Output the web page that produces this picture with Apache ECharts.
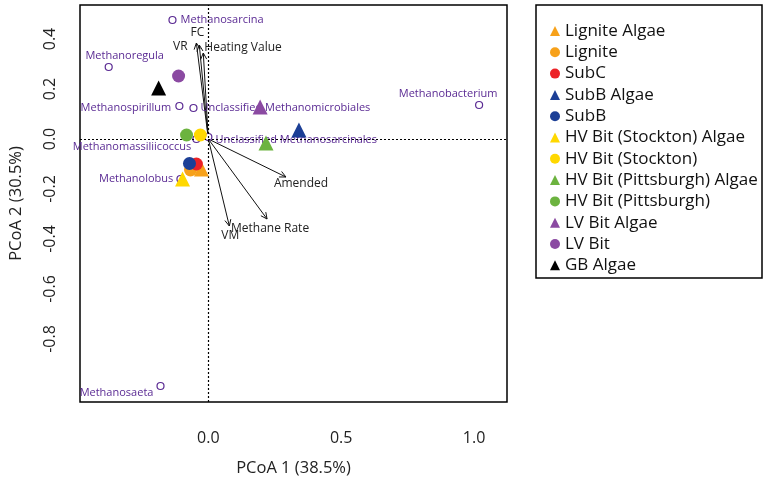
<!DOCTYPE html>
<html>
<head>
<meta charset="utf-8">
<script src="https://cdn.jsdelivr.net/npm/echarts@6/dist/echarts.min.js"></script>
<style>
html,body{margin:0;padding:0;background:#fff;}
#chart{width:767px;height:486px;}
</style>
</head>
<body>
<div id="chart"></div>
<script>
// ---- data ----
const xTicks = [0.0, 0.5, 1.0];
const yTicks = [-0.8, -0.6, -0.4, -0.2, 0.0, 0.2, 0.4];

const sampleNames = ['Lignite Algae', 'Lignite', 'SubC', 'SubB Algae', 'SubB',
  'HV Bit (Stockton) Algae', 'HV Bit (Stockton)', 'HV Bit (Pittsburgh) Algae',
  'HV Bit (Pittsburgh)', 'LV Bit Algae', 'LV Bit', 'GB Algae'];
const sampleX = [-0.026, -0.067, -0.045, 0.341, -0.071, -0.097, -0.030, 0.217, -0.082, 0.195, -0.112, -0.187];
const sampleY = [-0.120, -0.124, -0.100, 0.036, -0.098, -0.160, 0.016, -0.016, 0.016, 0.128, 0.252, 0.204];
const sampleAlgae = [true, false, false, true, false, true, false, true, false, true, false, true];
const sampleColors = ['#f7a11a', '#f7a11a', '#ec2227', '#1c3f96', '#1c3f96', '#ffd800', '#ffd800',
  '#6cb33f', '#6cb33f', '#8b4aa2', '#8b4aa2', '#000000'];

const speciesNames = ['Methanosarcina', 'Methanoregula', 'Methanospirillum', 'Unclassified Methanomicrobiales',
  'Methanobacterium', 'Methanomassiliicoccus', 'Unclassified Methanosarcinales', 'Methanolobus', 'Methanosaeta'];
const speciesX = [-0.135, -0.375, -0.109, -0.056, 1.019, -0.045, 0.000, -0.105, -0.180];
const speciesY = [0.476, 0.288, 0.132, 0.124, 0.136, 0.000, 0.008, -0.160, -0.988];

const vectorNames = ['FC', 'VR', 'Heating Value', 'Amended', 'Methane Rate', 'VM'];
const vectorX = [-0.045, -0.034, -0.019, 0.292, 0.221, 0.079];
const vectorY = [0.384, 0.376, 0.344, -0.152, -0.320, -0.348];

// ---- styles ----
const FONT = '"Open Sans", "Noto Sans", sans-serif';
const speciesLabelPos = {
  'Methanosarcina': {position: 'right', distance: 4, offset: [0, 0]},
  'Methanoregula': {position: 'top', distance: 2, offset: [16, 0]},
  'Methanospirillum': {position: 'left', distance: 4, offset: [0, 2]},
  'Unclassified Methanomicrobiales': {position: 'right', distance: 3, offset: [0, 0]},
  'Methanobacterium': {position: 'top', distance: 2, offset: [-31, 0]},
  'Methanomassiliicoccus': {position: 'left', distance: 1, offset: [0, 8]},
  'Unclassified Methanosarcinales': {position: 'right', distance: 3, offset: [0, 3]},
  'Methanolobus': {position: 'left', distance: 3, offset: [0, 0]},
  'Methanosaeta': {position: 'left', distance: 3, offset: [0, 7]}
};
const vectorLabelOff = {
  'FC': {dx: 1, dy: -10, align: 'center'},
  'VR': {dx: -19, dy: 2, align: 'center'},
  'Heating Value': {dx: 1, dy: -5, align: 'left'},
  'Amended': {dx: -12, dy: 7, align: 'left'},
  'Methane Rate': {dx: 3, dy: 10, align: 'center'},
  'VM': {dx: 1, dy: 10, align: 'center'}
};

const series = [];

// zero lines
series.push({
  type: 'line', data: [], silent: true,
  markLine: {
    silent: true, symbol: 'none', label: {show: false},
    lineStyle: {color: '#000', type: [2, 2], width: 1.2},
    data: [{xAxis: 0}, {yAxis: 0}]
  }
});

// vectors
series.push({
  type: 'custom', z: 3,
  data: vectorNames.map((n, i) => [vectorX[i], vectorY[i], n]),
  renderItem: function (params, api) {
    const p0 = api.coord([0, 0]);
    const p1 = api.coord([api.value(0), api.value(1)]);
    const name = vectorNames[params.dataIndex];
    const ang = Math.atan2(p1[1] - p0[1], p1[0] - p0[0]);
    const L = 7, a = 0.45;
    const h1 = [p1[0] - L * Math.cos(ang - a), p1[1] - L * Math.sin(ang - a)];
    const h2 = [p1[0] - L * Math.cos(ang + a), p1[1] - L * Math.sin(ang + a)];
    const o = vectorLabelOff[name];
    return {
      type: 'group',
      children: [
        {type: 'line', shape: {x1: p0[0], y1: p0[1], x2: p1[0], y2: p1[1]}, style: {stroke: '#111', lineWidth: 1}},
        {type: 'polyline', shape: {points: [h1, p1, h2]}, style: {stroke: '#111', lineWidth: 1, fill: null}},
        {type: 'text', x: p1[0] + o.dx, y: p1[1] + o.dy,
          style: {text: name, fill: '#222', font: '12px ' + FONT, align: o.align, verticalAlign: 'middle'}}
      ]
    };
  }
});

// species
series.push({
  type: 'scatter', z: 4,
  symbol: 'circle', symbolSize: 7,
  itemStyle: {color: '#fff', borderColor: '#5a2a93', borderWidth: 1.2, opacity: 1},
  data: speciesNames.map((n, i) => ({
    name: n, value: [speciesX[i], speciesY[i]],
    label: Object.assign({show: true, formatter: n}, speciesLabelPos[n])
  })),
  label: {color: '#5a2a93', fontSize: 11, fontFamily: FONT}
});

// samples
sampleNames.forEach((n, i) => {
  series.push({
    name: n, type: 'scatter', z: 5,
    symbol: sampleAlgae[i] ? 'triangle' : 'circle',
    symbolSize: sampleAlgae[i] ? 15 : 13,
    itemStyle: {color: sampleColors[i], opacity: 1},
    data: [[sampleX[i], sampleY[i]]]
  });
});

const chart = echarts.init(document.getElementById('chart'));
chart.setOption({
  animation: false,
  backgroundColor: '#fff',
  grid: {left: 78, top: 5, right: 260, bottom: 84, show: true, borderColor: '#000', borderWidth: 1.5},
  xAxis: {
    type: 'value', min: -0.483, max: 1.124,
    name: 'PCoA 1 (38.5%)', nameLocation: 'middle', nameGap: 58,
    nameTextStyle: {fontSize: 16.5, color: '#222', fontFamily: FONT},
    axisLine: {show: false}, axisTick: {show: false}, splitLine: {show: false},
    axisLabel: {customValues: xTicks, formatter: v => v.toFixed(1), fontSize: 16, color: '#222', fontFamily: FONT, margin: 28}
  },
  yAxis: {
    type: 'value', min: -1.052, max: 0.536,
    name: 'PCoA 2 (30.5%)', nameLocation: 'middle', nameGap: 55,
    nameTextStyle: {fontSize: 16.5, color: '#222', fontFamily: FONT},
    axisLine: {show: false}, axisTick: {show: false}, splitLine: {show: false},
    axisLabel: {customValues: yTicks, formatter: v => v.toFixed(1), rotate: 90, fontSize: 16, color: '#222', fontFamily: FONT, margin: 22}
  },
  legend: {
    orient: 'vertical', left: 545, top: 17,
    itemWidth: 10, itemHeight: 10, itemGap: 3.3,
    textStyle: {fontSize: 17, color: '#111', fontFamily: FONT, lineHeight: 18},
    data: sampleNames
  },
  graphic: [{
    type: 'rect', shape: {x: 536, y: 5, width: 226, height: 273},
    style: {fill: null, stroke: '#000', lineWidth: 1.5}
  }],
  series: series
});
</script>
</body>
</html>
